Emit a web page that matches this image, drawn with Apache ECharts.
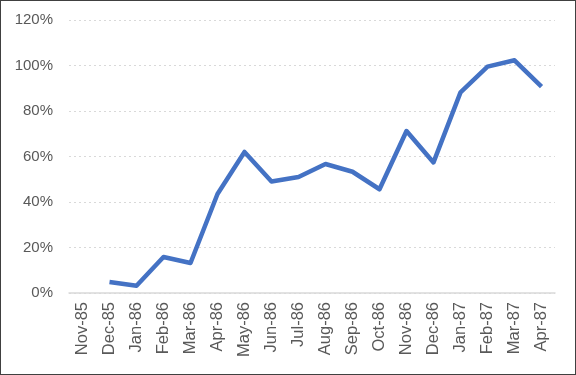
<!DOCTYPE html>
<html><head><meta charset="utf-8">
<script src="https://cdn.jsdelivr.net/npm/echarts@6/dist/echarts.min.js"></script>
<style>html,body{margin:0;padding:0;background:#fff}#c{width:576px;height:375px;box-sizing:border-box;border:1px solid #404040}</style>
</head><body><div id="c"></div>
<script>
var categories = ["Nov-85","Dec-85","Jan-86","Feb-86","Mar-86","Apr-86","May-86","Jun-86","Jul-86","Aug-86","Sep-86","Oct-86","Nov-86","Dec-86","Jan-87","Feb-87","Mar-87","Apr-87"];
var values = [null,4.8,3.2,15.8,13.2,43.5,62,49,51,56.7,53.3,45.6,71.2,57.4,88.2,99.5,102.3,90.7];
var yTicks = [0,20,40,60,80,100,120];
var chart = echarts.init(document.getElementById('c'));
chart.setOption({
  animation:false,
  grid:{left:68,right:20,top:19,bottom:81},
  xAxis:{type:'category',data:categories,boundaryGap:true,
    axisLine:{lineStyle:{color:'#d9d9d9',width:1.5}},axisTick:{show:false},
    axisLabel:{rotate:90,color:'#595959',fontSize:16.5,fontFamily:'Liberation Sans',margin:9,interval:0}},
  yAxis:{type:'value',min:yTicks[0],max:yTicks[yTicks.length-1],interval:20,
    axisLine:{show:false},axisTick:{show:false},
    splitLine:{lineStyle:{color:'#d9d9d9',type:[2,3],width:1}},
    axisLabel:{formatter:'{value}%',color:'#595959',fontSize:15,fontFamily:'Liberation Sans',margin:16}},
  series:[{type:'line',data:values,symbol:'none',connectNulls:false,
    lineStyle:{color:'#4472C4',width:4.5,join:'round'}}]
});
</script></body></html>
